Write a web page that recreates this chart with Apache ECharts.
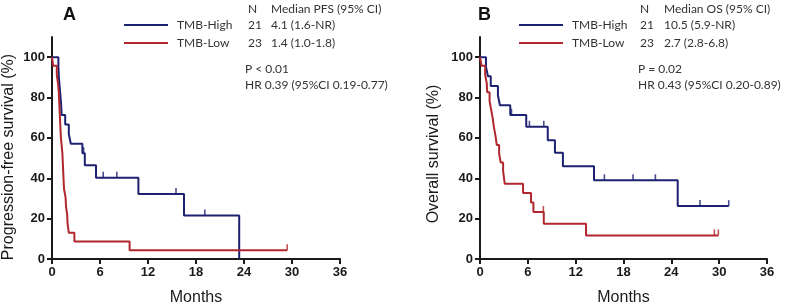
<!DOCTYPE html>
<html><head><meta charset="utf-8">
<script src="https://cdn.jsdelivr.net/npm/echarts@6/dist/echarts.min.js"></script>
<style>html,body{margin:0;padding:0;background:#fff}#c{width:785px;height:305px}</style>
</head><body><div id="c"></div>
<script>
// ---- Data ----
const xTicks = [0, 6, 12, 18, 24, 30, 36];
const yTicks = [0, 20, 40, 60, 80, 100];

// Panel A: PFS
const pfsHighT = [0, 0.8, 0.85, 0.95, 1.05, 1.15, 1.2, 1.65, 2.1, 2.35, 3.8, 4.1, 5.5, 10.8, 16.5, 23.4];
const pfsHighS = [100, 95.2, 90.5, 85.7, 81.0, 76.2, 71.4, 66.7, 61.9, 57.1, 52.4, 46.5, 40.3, 32.2, 21.5, 0];
const pfsHighCensT = [3.95, 6.4, 8.1, 15.5, 19.1];
const pfsHighCensS = [52.4, 40.3, 40.3, 32.2, 21.5];

const pfsLowT = [0, 0.15, 0.6, 0.75, 0.85, 0.9, 0.95, 1.0, 1.05, 1.1, 1.2, 1.3, 1.35, 1.4, 1.45, 1.5, 1.7, 1.75, 1.9, 1.95, 2.1, 2.8, 9.7, 29.4];
const pfsLowS = [100, 95.7, 91.3, 87.0, 82.6, 78.3, 73.9, 69.6, 65.2, 60.9, 56.5, 52.2, 47.8, 43.5, 39.1, 34.8, 30.4, 26.1, 21.7, 17.4, 13.0, 8.7, 4.3, 4.3];
const pfsLowCensT = [29.4];
const pfsLowCensS = [4.3];

// Panel B: OS
const osHighT = [0, 0.75, 1.0, 1.35, 2.25, 2.5, 3.8, 5.8, 8.5, 9.4, 10.4, 14.3, 24.8, 31.2];
const osHighS = [100, 95.2, 90.5, 85.7, 81.0, 76.2, 71.4, 65.5, 58.9, 52.7, 46.0, 39.0, 26.2, 26.2];
const osHighCensT = [3.95, 6.2, 8.0, 15.6, 19.2, 22.0, 27.6, 31.2];
const osHighCensS = [71.4, 65.5, 65.5, 39.0, 39.0, 39.0, 26.2, 26.2];

const osLowT = [0, 0.2, 0.65, 0.85, 0.9, 1.2, 1.4, 1.6, 1.75, 1.95, 2.1, 2.4, 2.6, 2.9, 3.1, 5.4, 6.4, 6.7, 8.0, 13.3, 29.9];
const osLowS = [100, 95.7, 91.3, 87.0, 82.6, 78.3, 73.9, 69.6, 65.2, 60.9, 56.5, 52.2, 47.8, 43.5, 37.3, 32.7, 28.0, 23.3, 17.5, 11.7, 11.7];
const osLowCensT = [7.95, 29.4, 29.9];
const osLowCensS = [23.3, 11.7, 11.7];

const groups = ['TMB-High', 'TMB-Low'];
const nA = ['21', '23'];
const medA = ['4.1 (1.6-NR)', '1.4 (1.0-1.8)'];
const nB = ['21', '23'];
const medB = ['10.5 (5.9-NR)', '2.7 (2.8-6.8)'];
const headA = 'Median PFS (95% CI)';
const headB = 'Median OS (95% CI)';
const statsA = ['P < 0.01', 'HR 0.39 (95%CI 0.19-0.77)'];
const statsB = ['P = 0.02', 'HR 0.43 (95%CI 0.20-0.89)'];

// ---- Styles ----
const BLUE = '#1c2170';
const RED = '#b0272d';
const AX = '#1a1a1a';
const zip = (t, s) => t.map((v, i) => [v, s[i]]);

function xAx(gi) {
  return {
    gridIndex: gi, type: 'value', min: 0, max: 36, interval: 6,
    name: 'Months', nameLocation: 'middle', nameGap: 31,
    nameTextStyle: { fontFamily: 'Liberation Sans', fontSize: 16, color: AX },
    axisLine: { lineStyle: { color: AX, width: 2 } },
    axisTick: { length: 5, lineStyle: { color: AX, width: 2 } },
    axisLabel: { fontFamily: 'Liberation Sans', fontWeight: 'bold', fontSize: 13, color: AX, margin: 7 },
    splitLine: { show: false }
  };
}
function yAx(gi, name, gap, pad) {
  return {
    gridIndex: gi, type: 'value', min: 0, max: 110,
    name: name, nameLocation: 'middle', nameGap: gap, nameRotate: 90,
    nameTextStyle: { fontFamily: 'Liberation Sans', fontSize: 16, color: AX, padding: [0, pad, 0, 0] },
    axisLine: { show: true, lineStyle: { color: AX, width: 2 } },
    axisTick: { show: true, length: 5, lineStyle: { color: AX, width: 2 }, customValues: yTicks },
    axisLabel: { fontFamily: 'Liberation Sans', fontWeight: 'bold', fontSize: 13, color: AX, margin: 7, customValues: yTicks },
    splitLine: { show: false }
  };
}
function km(gi, t, s, color) {
  return { type: 'line', xAxisIndex: gi, yAxisIndex: gi, step: 'end', data: zip(t, s),
    symbol: 'none', lineStyle: { color: color, width: 2 }, z: 3 };
}
function cens(gi, t, s, color) {
  return { type: 'scatter', xAxisIndex: gi, yAxisIndex: gi, data: zip(t, s),
    symbol: 'rect', symbolSize: [1.6, 6], symbolOffset: [0, -3],
    itemStyle: { color: color }, z: 4 };
}
function txt(x, y, s, opts) {
  return { type: 'text', x: x, y: y, style: Object.assign({ text: s, fill: '#333',
    font: '12px Lato', verticalAlign: 'middle' }, opts || {}) };
}
function seg(x1, x2, y, color) {
  return { type: 'line', shape: { x1: x1, y1: y, x2: x2, y2: y }, style: { stroke: color, lineWidth: 2 } };
}
function legendBlock(ox, nx, mx, sx, ns, meds, head, stats) {
  return [
    txt(nx, 9, 'N'), txt(mx, 9, head),
    seg(ox, ox + 44, 25, BLUE), txt(ox + 53, 25, groups[0]), txt(nx, 25, ns[0]), txt(mx, 25, meds[0]),
    seg(ox, ox + 44, 43, RED), txt(ox + 53, 43, groups[1]), txt(nx, 43, ns[1]), txt(mx, 43, meds[1]),
    txt(sx, 69, stats[0]), txt(sx, 85, stats[1])
  ];
}

const option = {
  animation: false,
  backgroundColor: '#fff',
  grid: [
    { left: 52, right: 445, top: 37, bottom: 46, outerBoundsMode: 'none', containLabel: false },
    { left: 480, right: 18, top: 37, bottom: 46, outerBoundsMode: 'none', containLabel: false }
  ],
  xAxis: [xAx(0), xAx(1)],
  yAxis: [yAx(0, 'Progression-free survival (%)', 35, 18), yAx(1, 'Overall survival (%)', 38, 12)],
  series: [
    km(0, pfsHighT, pfsHighS, BLUE), km(0, pfsLowT, pfsLowS, RED),
    cens(0, pfsHighCensT, pfsHighCensS, BLUE), cens(0, pfsLowCensT, pfsLowCensS, RED),
    km(1, osHighT, osHighS, BLUE), km(1, osLowT, osLowS, RED),
    cens(1, osHighCensT, osHighCensS, BLUE), cens(1, osLowCensT, osLowCensS, RED)
  ],
  graphic: [
    txt(63, 15, 'A', { font: 'bold 18px Liberation Sans', fill: '#111' }),
    txt(478, 15, 'B', { font: 'bold 18px Liberation Sans', fill: '#111' })
  ].concat(
    legendBlock(124, 248, 271, 245, nA, medA, headA, statsA),
    legendBlock(519, 640, 664, 638, nB, medB, headB, statsB)
  )
};
const chart = echarts.init(document.getElementById('c'), null, { renderer: 'canvas' });
chart.setOption(option);
</script></body></html>
